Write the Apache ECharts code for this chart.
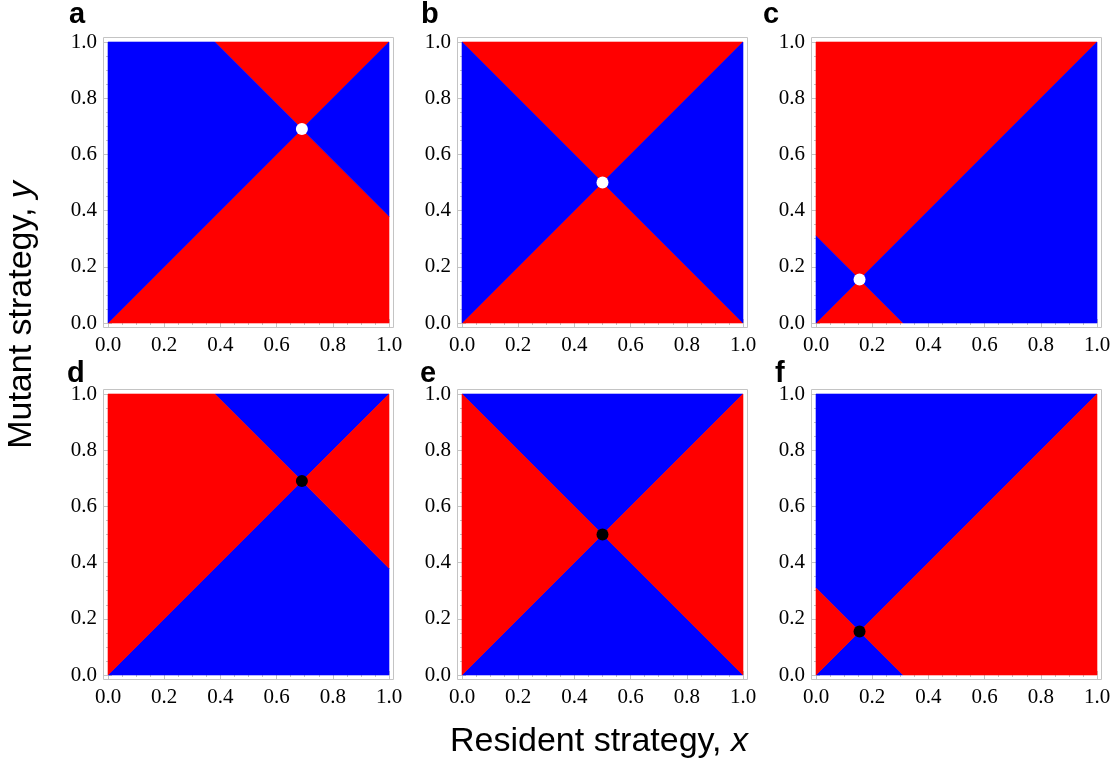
<!DOCTYPE html>
<html>
<head>
<meta charset="utf-8">
<script src="https://cdn.jsdelivr.net/npm/echarts@6/dist/echarts.min.js"></script>
<style>
  html, body { margin: 0; padding: 0; background: #ffffff; }
  #chart { width: 1118px; height: 765px; }
</style>
</head>
<body>
<div id="chart"></div>
<script>
// Panel identifiers drawn above each plot
const panelLetters = ['a', 'b', 'c', 'd', 'e', 'f'];
// Singular strategy x* of each panel: both boundary lines cross at (x*, x*)
const singularPoints = [0.69, 0.5, 0.155, 0.69, 0.5, 0.155];
// +1: mutant invades above/below both lines; -1: invades in the left/right sectors
const invasionSign = [1, 1, 1, -1, -1, -1];
// Tick values shared by both axes
const tickValues = [0.0, 0.2, 0.4, 0.6, 0.8, 1.0];

// Layout of the 3 x 2 panel grid (pixels)
const colLeft = [108, 462, 816];
const rowTop = [42, 394];
const plotSize = 281;
const framePad = 5;
const letterPos = [[69, 29], [421, 29], [763, 29], [67, 388], [420, 388], [775, 388]];

const RED = '#ff0000';
const BLUE = '#0000ff';
const FRAME = '#c4c4c4';

// Keep the part of a polygon where a*x + b*y + c >= 0
function clipHalfPlane(poly, a, b, c) {
  const out = [];
  const f = p => a * p[0] + b * p[1] + c;
  for (let i = 0; i < poly.length; i++) {
    const p = poly[i], q = poly[(i + 1) % poly.length];
    const fp = f(p), fq = f(q);
    if (fp >= 0) out.push(p);
    if ((fp >= 0) !== (fq >= 0)) {
      const t = fp / (fp - fq);
      out.push([p[0] + t * (q[0] - p[0]), p[1] + t * (q[1] - p[1])]);
    }
  }
  return out;
}

// Four sectors of the unit square cut by y = x and y = 2s - x
function sectors(s) {
  const sq = [[0, 0], [1, 0], [1, 1], [0, 1]];
  const cut = (s1, s2) =>
    clipHalfPlane(clipHalfPlane(sq, -s1, s1, 0), s2, s2, -2 * s * s2);
  return {
    top: cut(1, 1),
    bottom: cut(-1, -1),
    left: cut(1, -1),
    right: cut(-1, 1)
  };
}

const grids = [], xAxes = [], yAxes = [], series = [], graphics = [];

const tickLabel = {
  fontFamily: 'Liberation Serif',
  fontSize: 21,
  color: '#000000',
  formatter: v => Number(v).toFixed(1)
};

function axisBase(gridIndex, position, showLabel) {
  const horizontal = position === 'bottom' || position === 'top';
  return {
    type: 'value',
    gridIndex: gridIndex,
    position: position,
    min: tickValues[0],
    max: tickValues[tickValues.length - 1],
    interval: tickValues[1] - tickValues[0],
    offset: framePad,
    axisLine: { show: false },
    axisTick: { show: true, inside: true, length: 4, lineStyle: { color: FRAME, width: 1 } },
    minorTick: { show: true, splitNumber: 4, length: 2, lineStyle: { color: FRAME, width: 1 } },
    splitLine: { show: false },
    axisLabel: Object.assign({
      show: showLabel,
      margin: horizontal ? 7 : 6,
      showMinLabel: true,
      showMaxLabel: true
    }, tickLabel)
  };
}

singularPoints.forEach((s, i) => {
  const col = i % 3, row = Math.floor(i / 3);
  const left = colLeft[col], top = rowTop[row];
  grids.push({ left: left, top: top, width: plotSize, height: plotSize, show: false });

  xAxes.push(axisBase(i, 'bottom', true));
  xAxes.push(axisBase(i, 'top', false));
  yAxes.push(axisBase(i, 'left', true));
  yAxes.push(axisBase(i, 'right', false));

  const sign = invasionSign[i];
  const vertColor = sign > 0 ? RED : BLUE;
  const sideColor = sign > 0 ? BLUE : RED;

  series.push({
    type: 'custom',
    xAxisIndex: 2 * i,
    yAxisIndex: 2 * i,
    silent: true,
    clip: false,
    data: [[s, s]],
    encode: { x: 0, y: 1 },
    renderItem: function (params, api) {
      const sec = sectors(api.value(0));
      const poly = (pts, color) => ({
        type: 'polygon',
        shape: { points: pts.map(p => api.coord(p)) },
        style: { fill: color, stroke: color, lineWidth: 0.6 }
      });
      return {
        type: 'group',
        children: [
          poly(sec.top, vertColor),
          poly(sec.bottom, vertColor),
          poly(sec.left, sideColor),
          poly(sec.right, sideColor)
        ]
      };
    },
    z: 1
  });

  series.push({
    type: 'scatter',
    xAxisIndex: 2 * i,
    yAxisIndex: 2 * i,
    silent: true,
    symbol: 'circle',
    symbolSize: 12,
    itemStyle: { color: sign > 0 ? '#ffffff' : '#000000', opacity: 1 },
    data: [[s, s]],
    z: 5
  });

  // Light frame around the plot, offset from the coloured square
  graphics.push({
    type: 'rect',
    silent: true,
    shape: {
      x: left - framePad + 0.5,
      y: top - framePad + 0.5,
      width: plotSize + 2 * framePad - 1,
      height: plotSize + 2 * framePad - 1
    },
    style: { fill: 'none', stroke: FRAME, lineWidth: 1 },
    z: 10
  });

  graphics.push({
    type: 'text',
    silent: true,
    x: letterPos[i][0],
    y: letterPos[i][1],
    style: {
      text: panelLetters[i],
      fontFamily: 'Liberation Sans',
      fontWeight: 'bold',
      fontSize: 29,
      fill: '#000000',
      align: 'left',
      verticalAlign: 'bottom',
      textAlign: 'left',
      textVerticalAlign: 'bottom'
    }
  });
});

// Axis titles
graphics.push({
  type: 'text',
  silent: true,
  x: 599,
  y: 742,
  style: {
    text: 'Resident strategy, {i|x}',
    fontFamily: 'Liberation Sans',
    fontSize: 34,
    fill: '#000000',
    align: 'center',
    verticalAlign: 'middle',
    textAlign: 'center',
    textVerticalAlign: 'middle',
    rich: { i: { fontFamily: 'Liberation Sans', fontSize: 34, fontStyle: 'italic', fill: '#000000' } }
  }
});
graphics.push({
  type: 'text',
  silent: true,
  x: 22,
  y: 315,
  rotation: Math.PI / 2,
  style: {
    text: 'Mutant strategy, {i|y}',
    fontFamily: 'Liberation Sans',
    fontSize: 34,
    fill: '#000000',
    align: 'center',
    verticalAlign: 'middle',
    textAlign: 'center',
    textVerticalAlign: 'middle',
    rich: { i: { fontFamily: 'Liberation Sans', fontSize: 34, fontStyle: 'italic', fill: '#000000' } }
  }
});

const chart = echarts.init(document.getElementById('chart'), null, { renderer: 'canvas' });
chart.setOption({
  backgroundColor: '#ffffff',
  animation: false,
  grid: grids,
  xAxis: xAxes,
  yAxis: yAxes,
  series: series,
  graphic: graphics
});
</script>
</body>
</html>
